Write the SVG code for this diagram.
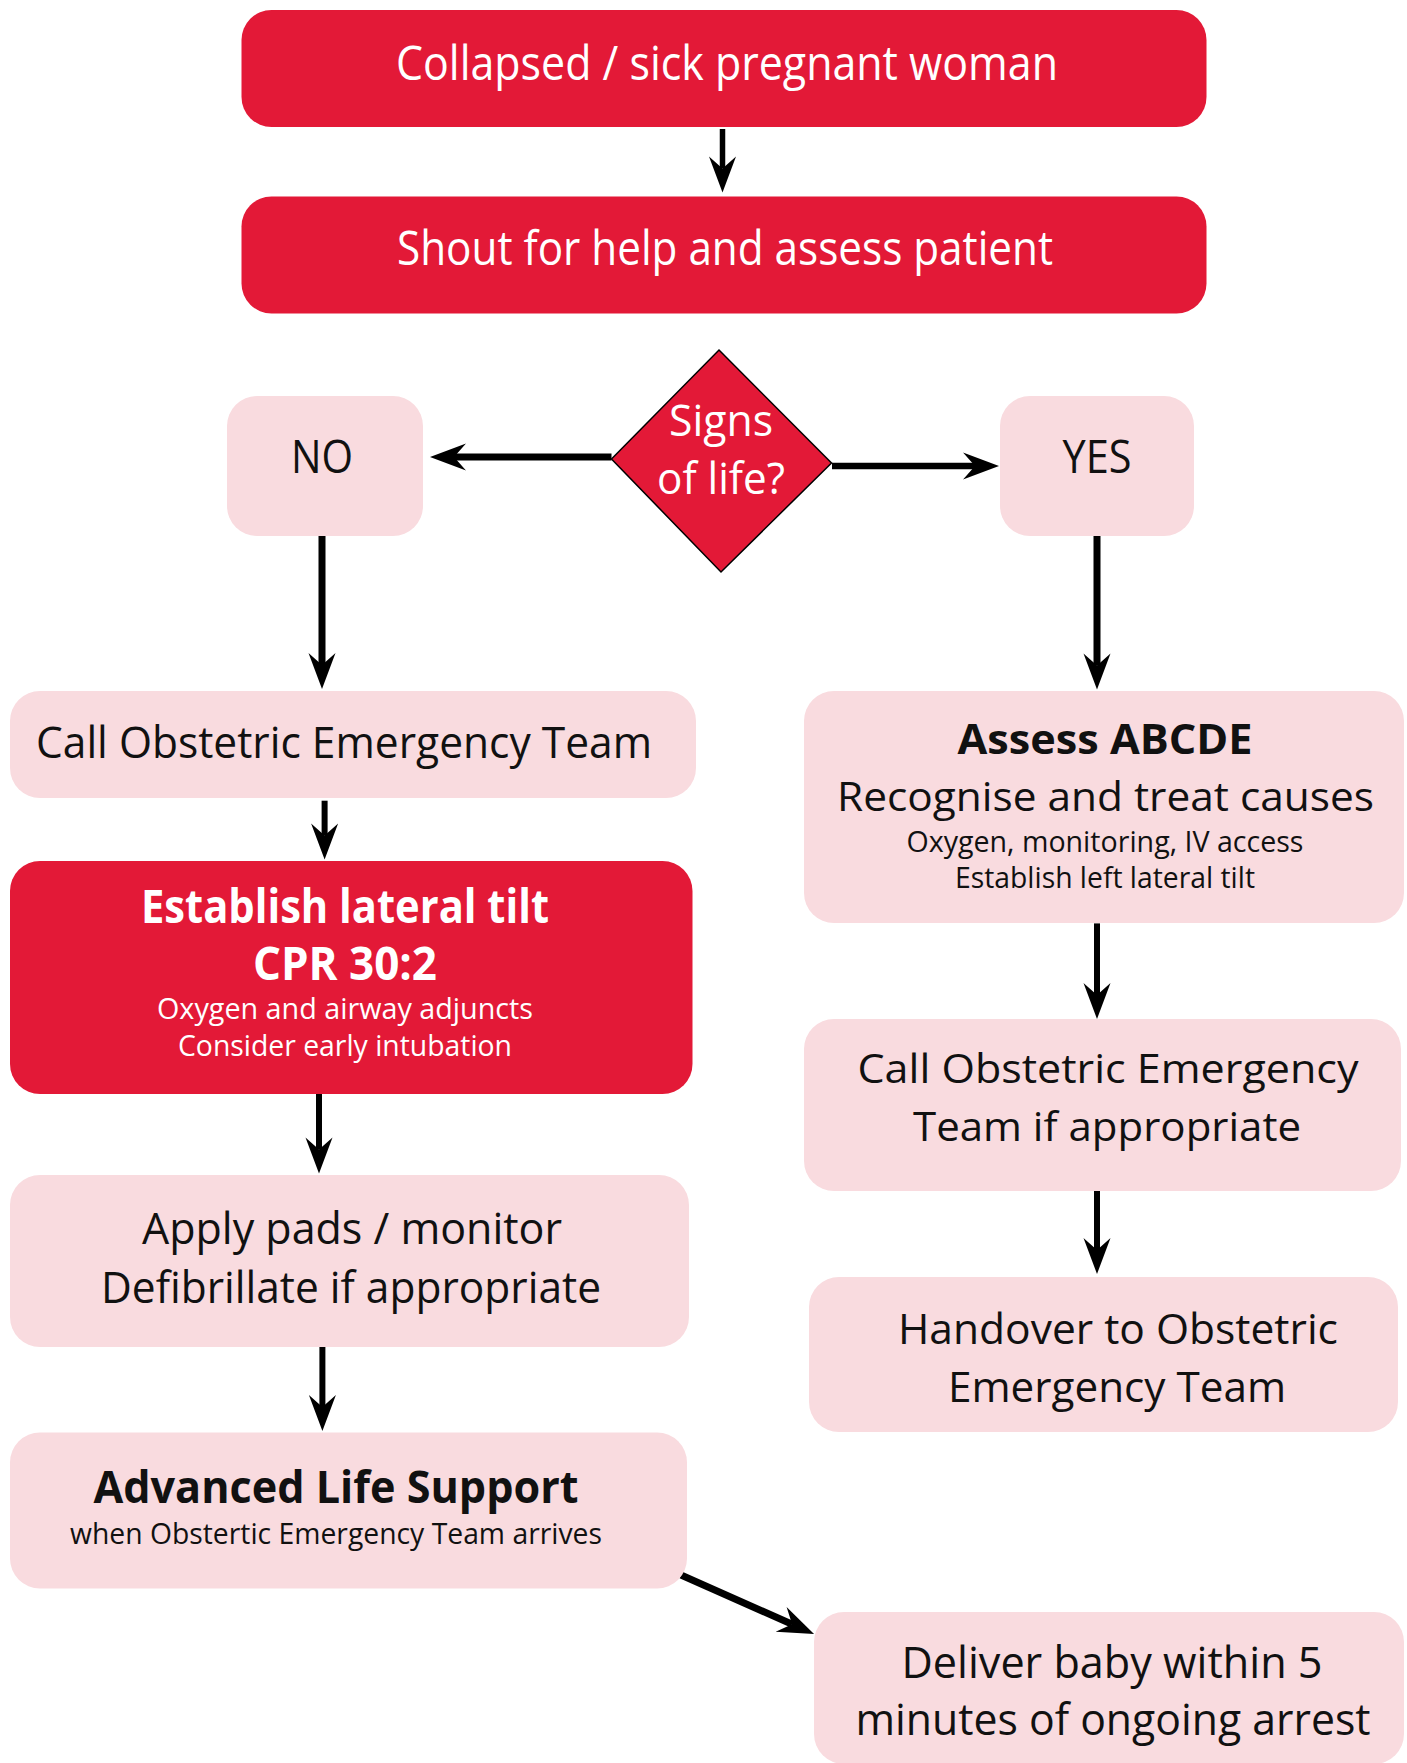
<svg xmlns="http://www.w3.org/2000/svg" width="1407" height="1763" viewBox="0 0 1407 1763">
<style>
.red{fill:#E31937}
.pink{fill:#F9DBDF}
text{font-family:"Open Sans","Noto Sans","Liberation Sans",sans-serif;text-anchor:middle}
.w{fill:#ffffff}
.k{fill:#111111}
.b{font-weight:bold}
.con{stroke:#000;fill:none}
</style>
<defs>
<marker id="ah" markerUnits="userSpaceOnUse" orient="auto" refX="0" refY="0" markerWidth="40" markerHeight="30" overflow="visible">
<path d="M24,0 L-12,-13.5 L0,0 L-12,13.5 Z" fill="#000"/>
</marker>
</defs>

<g id="connectors">
<line class="con" x1="722.5" y1="129" x2="722.5" y2="168.5" stroke-width="5.5" marker-end="url(#ah)"/>
<line class="con" x1="611.5" y1="457" x2="454" y2="457" stroke-width="7" marker-end="url(#ah)"/>
<line class="con" x1="832" y1="466" x2="975" y2="466" stroke-width="6.5" marker-end="url(#ah)"/>
<line class="con" x1="322" y1="536" x2="322" y2="665" stroke-width="7" marker-end="url(#ah)"/>
<line class="con" x1="1097" y1="536" x2="1097" y2="665.6" stroke-width="7" marker-end="url(#ah)"/>
<line class="con" x1="324.6" y1="800.7" x2="324.6" y2="835.6" stroke-width="6" marker-end="url(#ah)"/>
<line class="con" x1="319" y1="1094" x2="319" y2="1149.5" stroke-width="6" marker-end="url(#ah)"/>
<line class="con" x1="322.4" y1="1346.7" x2="322.4" y2="1407" stroke-width="6" marker-end="url(#ah)"/>
<line class="con" x1="1097" y1="923.4" x2="1097" y2="995" stroke-width="6" marker-end="url(#ah)"/>
<line class="con" x1="1097" y1="1190.6" x2="1097" y2="1250" stroke-width="6" marker-end="url(#ah)"/>
<line class="con" x1="681" y1="1575" x2="792.1" y2="1624.3" stroke-width="7" marker-end="url(#ah)"/>
</g>

<g id="n-collapsed">
<rect class="red" x="241.5" y="10" width="965" height="117" rx="30"/>
<text class="w" x="727" y="80" font-size="48" textLength="662" lengthAdjust="spacingAndGlyphs">Collapsed / sick pregnant woman</text>
</g>

<g id="n-shout">
<rect class="red" x="241.5" y="196.5" width="965" height="117" rx="30"/>
<text class="w" x="725" y="265" font-size="48" textLength="656" lengthAdjust="spacingAndGlyphs">Shout for help and assess patient</text>
</g>

<g id="n-signs">
<polygon class="red" points="719,350 831.5,463 721,572 611.5,459" stroke="#000" stroke-width="1.5"/>
<text class="w" x="721" y="436" font-size="44" textLength="104" lengthAdjust="spacingAndGlyphs">Signs</text>
<text class="w" x="721" y="494" font-size="44" textLength="128" lengthAdjust="spacingAndGlyphs">of life?</text>
</g>

<g id="n-no">
<rect class="pink" x="227" y="396" width="196" height="140" rx="30"/>
<text class="k" x="322" y="473" font-size="46" textLength="62" lengthAdjust="spacingAndGlyphs">NO</text>
</g>

<g id="n-yes">
<rect class="pink" x="1000" y="396" width="194" height="140" rx="30"/>
<text class="k" x="1097" y="473" font-size="46" textLength="69" lengthAdjust="spacingAndGlyphs">YES</text>
</g>

<g id="n-call-left">
<rect class="pink" x="10" y="691" width="686" height="107" rx="30"/>
<text class="k" x="344" y="758" font-size="44" textLength="616" lengthAdjust="spacingAndGlyphs">Call Obstetric Emergency Team</text>
</g>

<g id="n-establish">
<rect class="red" x="10" y="861" width="682.5" height="233" rx="30"/>
<text class="w b" x="345" y="922.5" font-size="46" textLength="408" lengthAdjust="spacingAndGlyphs">Establish lateral tilt</text>
<text class="w b" x="345" y="979.6" font-size="46" textLength="184" lengthAdjust="spacingAndGlyphs">CPR 30:2</text>
<text class="w" x="345" y="1019" font-size="30" textLength="376" lengthAdjust="spacingAndGlyphs">Oxygen and airway adjuncts</text>
<text class="w" x="345" y="1056" font-size="30" textLength="334" lengthAdjust="spacingAndGlyphs">Consider early intubation</text>
</g>

<g id="n-apply">
<rect class="pink" x="10" y="1175" width="679" height="172" rx="30"/>
<text class="k" x="352" y="1243.7" font-size="43" textLength="420" lengthAdjust="spacingAndGlyphs">Apply pads / monitor</text>
<text class="k" x="351" y="1303" font-size="43" textLength="500" lengthAdjust="spacingAndGlyphs">Defibrillate if appropriate</text>
</g>

<g id="n-als">
<rect class="pink" x="10" y="1432.5" width="677" height="156" rx="30"/>
<text class="k b" x="336" y="1503" font-size="45" textLength="485" lengthAdjust="spacingAndGlyphs">Advanced Life Support</text>
<text class="k" x="336" y="1543.6" font-size="30" textLength="532" lengthAdjust="spacingAndGlyphs">when Obstertic Emergency Team arrives</text>
</g>

<g id="n-assess">
<rect class="pink" x="804" y="691" width="600" height="232" rx="30"/>
<text class="k b" x="1105" y="753.5" font-size="41" textLength="295" lengthAdjust="spacingAndGlyphs">Assess ABCDE</text>
<text class="k" x="1105.5" y="811" font-size="41" textLength="537" lengthAdjust="spacingAndGlyphs">Recognise and treat causes</text>
<text class="k" x="1105" y="851.5" font-size="29" textLength="397" lengthAdjust="spacingAndGlyphs">Oxygen, monitoring, IV access</text>
<text class="k" x="1105" y="887.5" font-size="29" textLength="300" lengthAdjust="spacingAndGlyphs">Establish left lateral tilt</text>
</g>

<g id="n-call-right">
<rect class="pink" x="804" y="1019" width="597" height="172" rx="30"/>
<text class="k" x="1108" y="1083" font-size="41" textLength="501" lengthAdjust="spacingAndGlyphs">Call Obstetric Emergency</text>
<text class="k" x="1107" y="1140.6" font-size="41" textLength="388" lengthAdjust="spacingAndGlyphs">Team if appropriate</text>
</g>

<g id="n-handover">
<rect class="pink" x="809" y="1277" width="589" height="155" rx="30"/>
<text class="k" x="1118" y="1343.5" font-size="42" textLength="440" lengthAdjust="spacingAndGlyphs">Handover to Obstetric</text>
<text class="k" x="1117" y="1402" font-size="42" textLength="338" lengthAdjust="spacingAndGlyphs">Emergency Team</text>
</g>

<g id="n-deliver">
<rect class="pink" x="814" y="1612" width="590" height="152" rx="30"/>
<text class="k" x="1112" y="1677.6" font-size="43" textLength="421" lengthAdjust="spacingAndGlyphs">Deliver baby within 5</text>
<text class="k" x="1113" y="1734.7" font-size="43" textLength="515" lengthAdjust="spacingAndGlyphs">minutes of ongoing arrest</text>
</g>
</svg>
